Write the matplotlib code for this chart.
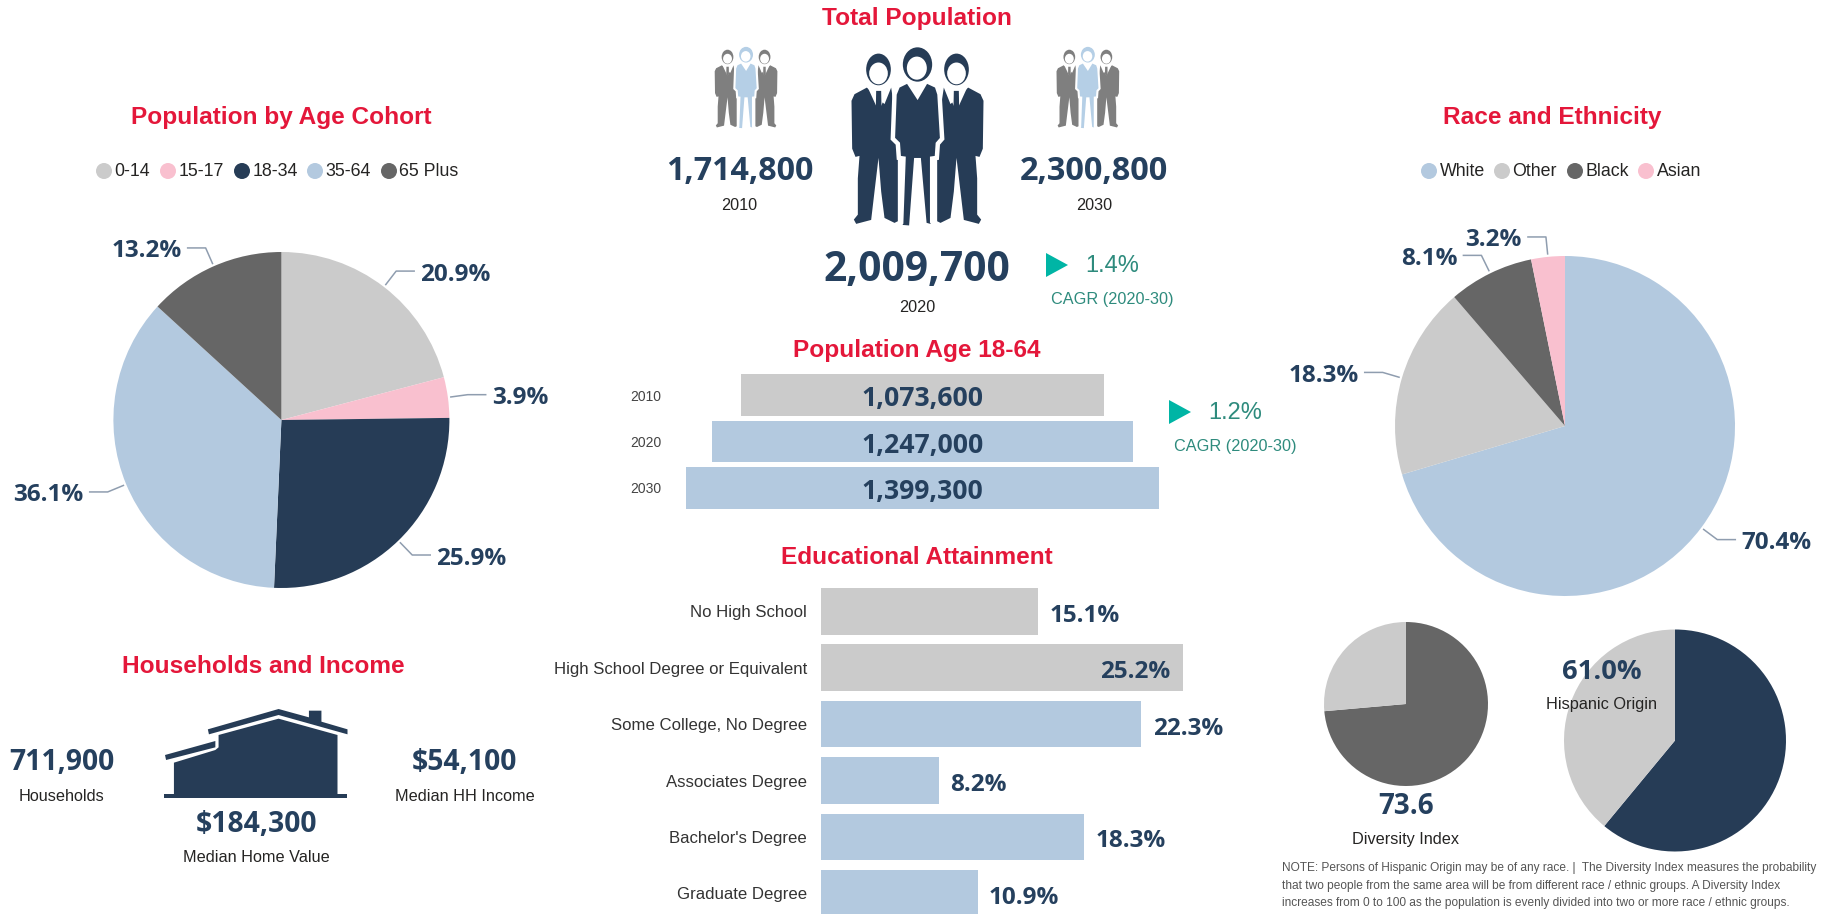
from matplotlib import pyplot as plt
from matplotlib.patches import Ellipse, Polygon
import numpy as np

W, H = 1840, 914

age_labels = ["0-14", "15-17", "18-34", "35-64", "65 Plus"]
age_values = [20.9, 3.9, 25.9, 36.1, 13.2]
race_labels = ["White", "Other", "Black", "Asian"]
race_values = [70.4, 18.3, 8.1, 3.2]
diversity_values = [73.6, 26.4]
hispanic_values = [61.0, 39.0]
working_years = ["2010", "2020", "2030"]
working_values = [1073600, 1247000, 1399300]
edu_labels = [
    "No High School",
    "High School Degree or Equivalent",
    "Some College, No Degree",
    "Associates Degree",
    "Bachelor's Degree",
    "Graduate Degree",
]
edu_values = [15.1, 25.2, 22.3, 8.2, 18.3, 10.9]

GREY = "#CBCBCB"
PINK = "#F9C0CF"
NAVY = "#263C56"
LABEL = "#25405E"
BLUE = "#B3C9DF"
DARK = "#666666"
RED = "#E4173A"
TEAL = "#00B5A5"
GREEN = "#2E8B7D"
TEXT = "#252423"
LEADER = "#8F9DAF"
SANS = "Liberation Sans"
BOLD = "Open Sans"

age_colors = [GREY, PINK, NAVY, BLUE, DARK]
race_colors = [BLUE, GREY, DARK, PINK]


def px_rect(x, y, w, h):
    return [x / W, 1 - (y + h) / H, w / W, h / H]


def draw_pie(fig, cx, cy, r, values, colors):
    ax = fig.add_axes(px_rect(cx - r, cy - r, 2 * r, 2 * r))
    ax.pie(values, colors=colors, startangle=90, counterclock=False, radius=1, wedgeprops={"linewidth": 0})
    ax.set_xlim(-1, 1)
    ax.set_ylim(-1, 1)
    return ax


def label_slices(pg, cx, cy, r, values):
    total = sum(values)
    before = 0
    for v in values:
        ang = 2 * np.pi * (before + v / 2) / total
        before += v
        sx, cs = np.sin(ang), np.cos(ang)
        side = 1 if sx > 0 else -1
        x1, y1 = cx + (r + 3) * sx, cy - (r + 3) * cs
        x2, y2 = cx + (r + 20) * sx, cy - (r + 20) * cs
        x3 = x2 + side * 18
        pg.plot([x1, x2, x3], [y1, y2, y2], color=LEADER, lw=1.1)
        pg.text(
            x3 + side * 6, y2 + 3.5, f"{v:.1f}%",
            ha="left" if side > 0 else "right", va="center",
            family=BOLD, weight="bold", fontsize=17.5, color=LABEL,
        )


def draw_legend(pg, labels, colors, dot_xs, y):
    for label, color, x in zip(labels, colors, dot_xs):
        pg.add_patch(Ellipse((x, y), 16, 16, color=color, lw=0))
        pg.text(x + 10.5, y, label, ha="left", va="center", family=SANS, fontsize=12.8, color=TEXT)


def person_icon(pg, x0, y0, sx, sy, man_color, woman_color):
    # outline taken from the big icon, in its own 3x crop units
    def pts(seq, mirror=False):
        return [(x0 + ((528 - x if mirror else x) - 66) / 3 * sx, y0 + (y - 42) / 3 * sy) for x, y in seq]

    man = [
        (112, 165), (75, 185), (66, 205), (68, 350), (78, 375), (90, 372), (85, 440), (85, 550), (73, 565),
        (80, 578), (125, 566), (135, 480), (147, 378), (155, 480), (165, 560), (195, 575), (205, 570),
        (205, 300), (185, 165), (165, 215),
    ]
    shirt = [(114, 163), (147, 236), (183, 163), (170, 160), (125, 160)]
    tie = [(140, 175), (155, 175), (156, 225), (147, 240), (139, 225)]
    woman = [
        (235, 145), (205, 160), (195, 185), (190, 320), (205, 335), (208, 378), (222, 380), (215, 575),
        (207, 587), (245, 590), (260, 385), (268, 385), (285, 580), (320, 590), (308, 572), (308, 380),
        (322, 378), (325, 335), (338, 320), (330, 185), (322, 160), (290, 145), (264, 190),
    ]
    for mirror in (False, True):
        pg.add_patch(Polygon(pts(man, mirror), closed=True, color=man_color, lw=0))
        pg.add_patch(Polygon(pts(shirt, mirror), closed=True, color="white", lw=0))
        pg.add_patch(Polygon(pts(tie, mirror), closed=True, color=man_color, lw=0))
        hx = 381 if mirror else 147
        c = pts([(hx, 110)])[0]
        pg.add_patch(Ellipse(c, 74 / 3 * sx, 96 / 3 * sy, color=man_color, lw=0))
        c = pts([(hx, 122)])[0]
        pg.add_patch(Ellipse(c, 56 / 3 * sx, 66 / 3 * sy, color="white", lw=0))
    pg.add_patch(Polygon(pts(woman), closed=True, facecolor=woman_color, edgecolor="white", lw=3.2 * sx))
    pg.add_patch(Ellipse(pts([(264, 95)])[0], 88 / 3 * sx, 104 / 3 * sy, color=woman_color, lw=0))
    pg.add_patch(Ellipse(pts([(262, 106)])[0], 60 / 3 * sx, 70 / 3 * sy, color="white", lw=0))


def house_icon(pg):
    def pts(seq):
        return [(x / 2.8, 640 + y / 3) for x, y in seq]

    body = [(487, 465), (487, 368), (603, 330), (612, 322), (612, 285), (780, 236), (945, 285), (945, 465)]
    roof = [
        (582, 268), (780, 207), (865, 232), (865, 212), (900, 212), (900, 245), (973, 268), (973, 283),
        (780, 225), (585, 283),
    ]
    lower = [(462, 345), (603, 303), (603, 322), (465, 360)]
    ground = [(460, 462), (973, 462), (973, 473), (460, 473)]
    for shape in (body, roof, lower, ground):
        pg.add_patch(Polygon(pts(shape), closed=True, color=NAVY, lw=0))


def big(pg, x, y, text, size):
    pg.text(x, y + 3, text, ha="center", va="center", family=BOLD, weight="bold", fontsize=size, color=LABEL)


def small(pg, x, y, text, size=11.7, color=TEXT):
    pg.text(x, y + 1.2, text, ha="center", va="center", family=SANS, fontsize=size, color=color)


def trend(pg, x, y, text):
    pg.add_patch(Polygon([(x, y), (x + 22, y + 12), (x, y + 24)], closed=True, color=TEAL, lw=0))
    small(pg, x + 66, y + 12, text, size=17, color=GREEN)
    small(pg, x + 66, y + 45, "CAGR (2020-30)", color=GREEN)


fig = plt.figure(figsize=(W / 100, H / 100), dpi=100, facecolor="white")

draw_pie(fig, 281.4, 420, 168, age_values, age_colors)
draw_pie(fig, 1565, 426, 170, race_values, race_colors)
draw_pie(fig, 1406, 704, 82, diversity_values, [DARK, GREY])
draw_pie(fig, 1675, 740.5, 111, hispanic_values, [NAVY, GREY])

# funnel of working age population
ax = fig.add_axes(px_rect(686, 374, 473, 135))
ax.barh(
    range(len(working_values)), working_values,
    left=[-v / 2 for v in working_values], height=0.903, color=[GREY, BLUE, BLUE],
)
ax.set_xlim(-max(working_values) / 2, max(working_values) / 2)
ax.set_ylim(2.452, -0.452)
ax.set_yticks(range(len(working_years)), working_years, family=SANS, fontsize=10, color="#444444")
ax.set_xticks([])
ax.tick_params(length=0, pad=17.7)
for s in ax.spines.values():
    s.set_visible(False)
for i, v in enumerate(working_values):
    ax.text(0, i + 0.09, f"{v:,}", ha="center", va="center", family=BOLD, weight="bold", fontsize=19.2, color=LABEL)

# education bars, the last one runs off the page
ax = fig.add_axes(px_rect(821, 588, 362, 326))
ax.barh(range(len(edu_values)), edu_values, height=0.828, color=[GREY, GREY, BLUE, BLUE, BLUE, BLUE])
ax.set_xlim(0, max(edu_values))
ax.set_ylim(5.367, -0.414)
ax.set_yticks(range(len(edu_labels)), edu_labels, family=SANS, fontsize=12.1, color="#333333")
ax.set_xticks([])
ax.tick_params(length=0, pad=10)
for s in ax.spines.values():
    s.set_visible(False)
for i, v in enumerate(edu_values):
    inside = v == max(edu_values)
    ax.text(
        v - 0.85 if inside else v + 0.8, i + 0.08, f"{v:.1f}%",
        ha="right" if inside else "left", va="center",
        family=BOLD, weight="bold", fontsize=17.5, color=LABEL, clip_on=False,
    )

# page layer in pixel coordinates for everything else
pg = fig.add_axes([0, 0, 1, 1], zorder=10)
pg.set_xlim(0, W)
pg.set_ylim(H, 0)
pg.axis("off")

for x, y, title in [
    (916.5, 19, "Total Population"),
    (281, 117.5, "Population by Age Cohort"),
    (1552, 117.5, "Race and Ethnicity"),
    (263, 666.5, "Households and Income"),
    (916.5, 350, "Population Age 18-64"),
    (916.5, 557.5, "Educational Attainment"),
]:
    pg.text(x, y, title, ha="center", va="center", family=SANS, weight="bold", fontsize=17.6, color=RED)

draw_legend(pg, age_labels, age_colors, [104, 168, 242, 315, 389], 171)
draw_legend(pg, race_labels, race_colors, [1429, 1502, 1575, 1646], 171)
label_slices(pg, 281.4, 420, 168, age_values)
label_slices(pg, 1565, 426, 170, race_values)

person_icon(pg, 851.5, 47, 1, 0.99, NAVY, NAVY)
person_icon(pg, 714.7, 46.7, 0.475, 0.452, "#7F7F7F", "#B5CFE6")
person_icon(pg, 1056.5, 46.7, 0.475, 0.452, "#7F7F7F", "#B5CFE6")
big(pg, 740, 168, "1,714,800", 23.2)
small(pg, 739.5, 204, "2010")
big(pg, 1094, 168, "2,300,800", 23.4)
small(pg, 1094, 204, "2030")
big(pg, 917, 267, "2,009,700", 29.3)
small(pg, 917, 306, "2020")
trend(pg, 1046, 253, "1.4%")
trend(pg, 1169, 400, "1.2%")

house_icon(pg)
big(pg, 61.4, 760, "711,900", 20.3)
small(pg, 61.4, 795.7, "Households")
big(pg, 464.6, 760, "$54,100", 20.3)
small(pg, 464.6, 795.7, "Median HH Income")
big(pg, 256.8, 821, "$184,300", 20.3)
small(pg, 256.8, 856.7, "Median Home Value")

big(pg, 1405.7, 803, "73.6", 20)
small(pg, 1405.7, 838.7, "Diversity Index")
big(pg, 1601.4, 669, "61.0%", 19.7)
small(pg, 1601.4, 703, "Hispanic Origin")

note_lines = [
    "NOTE: Persons of Hispanic Origin may be of any race. |  The Diversity Index measures the probability",
    "that two people from the same area will be from different race / ethnic groups. A Diversity Index",
    "increases from 0 to 100 as the population is evenly divided into two or more race / ethnic groups.",
]
for y, line in zip([868, 885.5, 903], note_lines):
    pg.text(1282, y, line, ha="left", va="center", family=SANS, fontsize=8.6, color="#555555")

fig.savefig("out.png", dpi=100)
